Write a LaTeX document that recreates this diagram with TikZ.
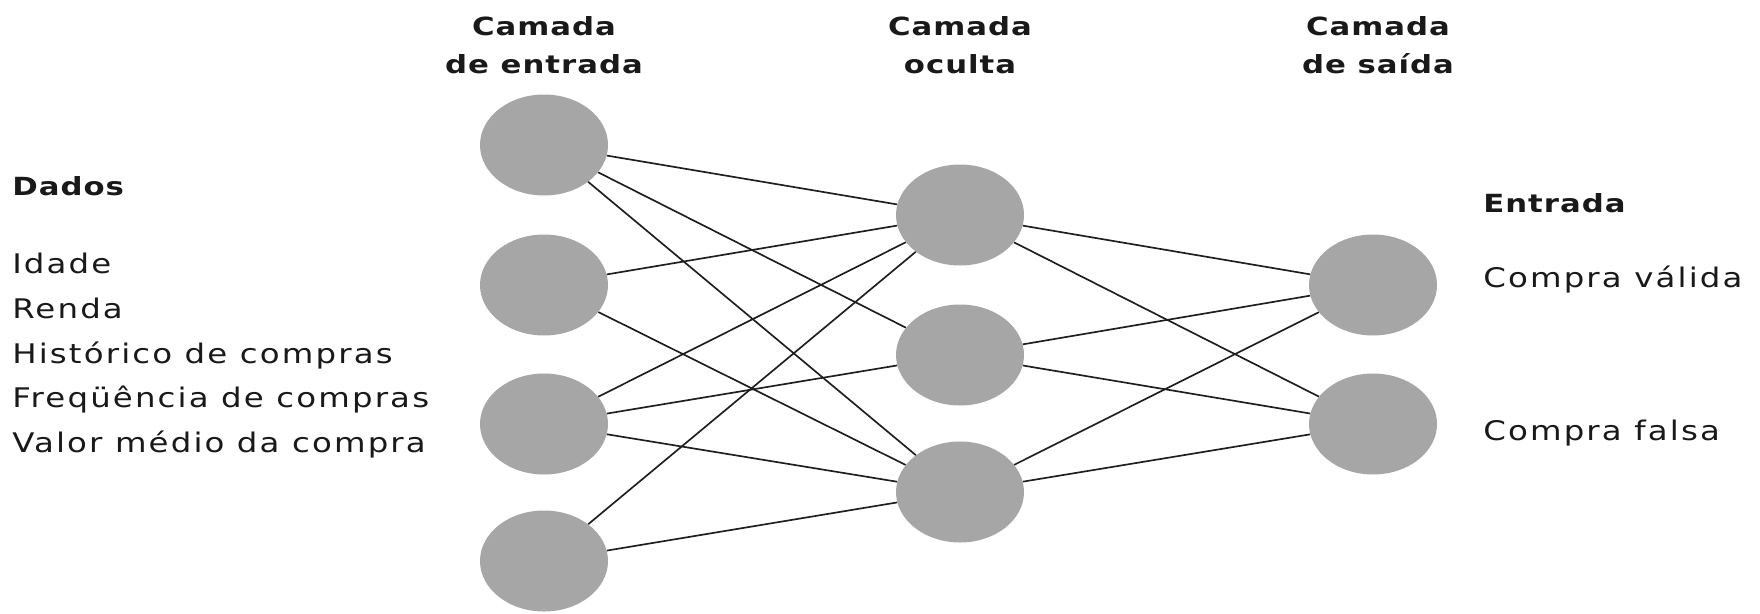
\documentclass[tikz,border=0pt]{standalone}
\usepackage{fontspec}
\usetikzlibrary{shapes.geometric}
\newfontfamily\regf{DejaVu Sans}[FakeStretch=1.2,LetterSpace=8]
\newfontfamily\bldf{DejaVu Sans Bold}[FakeStretch=1.23,LetterSpace=4]
\definecolor{nodegray}{RGB}{166,166,166}
\definecolor{edgecol}{RGB}{30,30,30}
\tikzset{
  neuron/.style={ellipse, fill=nodegray, draw=none, minimum width=96pt, minimum height=75.75pt, inner sep=0pt},
  conn/.style={draw=edgecol, line width=1.25pt},
  txt/.style={font=\regf\fontsize{20.25}{24}\selectfont, inner sep=0pt, text=black!90},
  btxt/.style={font=\bldf\fontsize{18.75}{22}\selectfont, inner sep=0pt, text=black!90},
}
\begin{document}
\begin{tikzpicture}[x=0.75pt,y=-0.75pt]
\useasboundingbox[fill=white] (0,0) rectangle (1760,614);
% neurons
\node[neuron] (i1) at (544,145) {};
\node[neuron] (i2) at (544,285) {};
\node[neuron] (i3) at (544,424) {};
\node[neuron] (i4) at (544,561) {};
\node[neuron] (h1) at (960,215) {};
\node[neuron] (h2) at (960,355) {};
\node[neuron] (h3) at (960,492) {};
\node[neuron] (o1) at (1373,285) {};
\node[neuron] (o2) at (1373,424) {};
% connections
\draw[conn] (i1) -- (h1);
\draw[conn] (i1) -- (h2);
\draw[conn] (i1) -- (h3);
\draw[conn] (i2) -- (h1);
\draw[conn] (i2) -- (h3);
\draw[conn] (i3) -- (h1);
\draw[conn] (i3) -- (h2);
\draw[conn] (i3) -- (h3);
\draw[conn] (i4) -- (h1);
\draw[conn] (i4) -- (h3);
\draw[conn] (h1) -- (o1);
\draw[conn] (h1) -- (o2);
\draw[conn] (h2) -- (o1);
\draw[conn] (h2) -- (o2);
\draw[conn] (h3) -- (o1);
\draw[conn] (h3) -- (o2);
% headers
\node[btxt, anchor=base] (ha1) at (544,35) {Camada};
\node[btxt, anchor=base] (ha2) at (544,73) {de entrada};
\node[btxt, anchor=base] (hb1) at (960,35) {Camada};
\node[btxt, anchor=base] (hb2) at (960,73) {oculta};
\node[btxt, anchor=base] (hc1) at (1378,35) {Camada};
\node[btxt, anchor=base] (hc2) at (1378,73) {de saída};
% left texts
\node[btxt, anchor=base west] (dados) at (12,195) {Dados};
\node[txt, anchor=base west] (l1) at (12,273) {Idade};
\node[txt, anchor=base west] (l2) at (12,318) {Renda};
\node[txt, anchor=base west] (l3) at (12,363) {Histórico de compras};
\node[txt, anchor=base west] (l4) at (12,407) {Freqüência de compras};
\node[txt, anchor=base west] (l5) at (12,452) {Valor médio da compra};
% right texts
\node[btxt, anchor=base west] (entr) at (1483,212) {Entrada};
\node[txt, anchor=base west] (r1) at (1483,287) {Compra válida};
\node[txt, anchor=base west] (r2) at (1483,440) {Compra falsa};
\end{tikzpicture}
\end{document}
